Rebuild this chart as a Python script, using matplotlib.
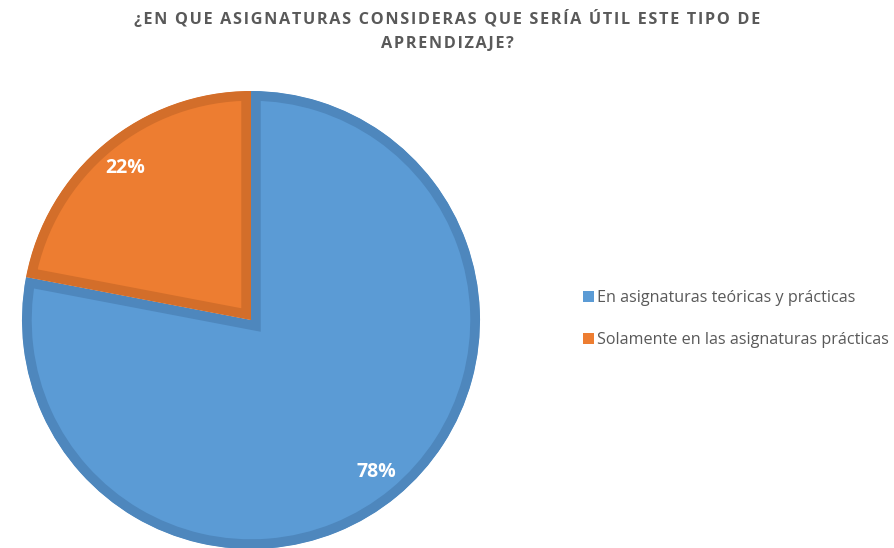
import matplotlib
matplotlib.use("Agg")
import matplotlib.pyplot as plt
from matplotlib.patches import Patch

# data
labels = ["En asignaturas teóricas y prácticas", "Solamente en las asignaturas prácticas"]
values = [78, 22]
fills = ["#5B9BD5", "#ED7D31"]
borders = ["#4E87BD", "#D36E2A"]
title = "¿EN QUE ASIGNATURAS CONSIDERAS QUE SERÍA ÚTIL ESTE TIPO DE\nAPRENDIZAJE?"

W, H = 895, 548
fig = plt.figure(figsize=(W / 100, H / 100), dpi=100)
ax = fig.add_axes([0, 0, 1, 1])

wedges, texts, autotexts = ax.pie(
    values, colors=fills, startangle=90, counterclock=False,
    center=(251, H - 320), radius=229, frame=True,
    autopct="%d%%", pctdistance=0.86,
    textprops=dict(color="white", fontsize=14, fontweight="bold", family="Open Sans"),
    wedgeprops=dict(linewidth=14, joinstyle="miter"),
)
ax.set_xlim(0, W)
ax.set_ylim(0, H)
ax.set_aspect("equal")
ax.axis("off")
for w, bc in zip(wedges, borders):
    w.set_edgecolor(bc)
    # keep the border inside the slice
    w.set_clip_on(True)
    w.set_clip_path(w.get_path(), w.get_transform())

# letter spacing with hair spaces
spaced = "\n".join("\u200a".join(ln) for ln in title.split("\n"))
fig.text(0.5, 1 - 31 / H, spaced, ha="center", va="center", fontsize=11.7,
         fontweight="bold", color="#595959", family=["Open Sans", "DejaVu Sans"],
         linespacing=1.65)

handles = [Patch(facecolor=c, edgecolor="none") for c in fills]
fig.legend(handles, labels, loc="center left", bbox_to_anchor=(583 / W, 1 - 319 / H),
           frameon=False, borderpad=0, borderaxespad=0,
           handlelength=0.68, handleheight=0.68, handletextpad=0.2,
           labelspacing=1.6, prop=dict(family="Open Sans", size=11.6), labelcolor="#595959")

fig.savefig("out.png", dpi=100)
